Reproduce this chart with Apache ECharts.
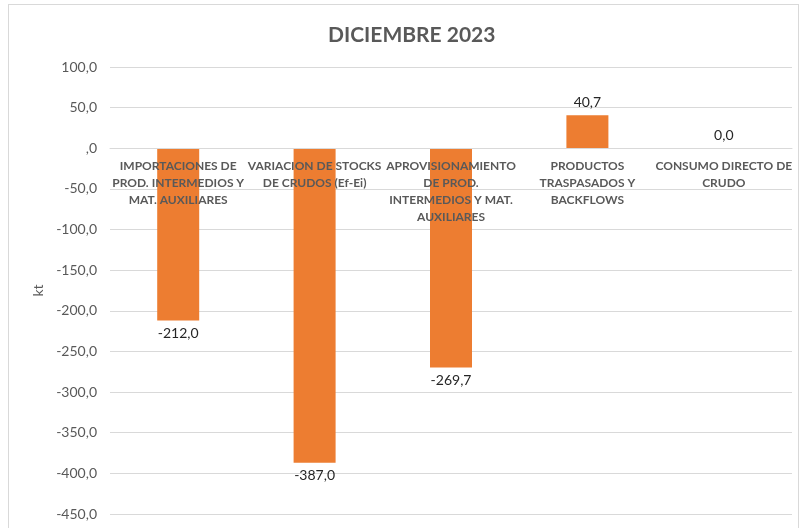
<!DOCTYPE html>
<html>
<head>
<meta charset="utf-8">
<script src="https://cdn.jsdelivr.net/npm/echarts@6/dist/echarts.min.js"></script>
<style>
  html, body { margin: 0; padding: 0; background: #fff; }
  #frame { position: absolute; left: 8px; top: 4px; width: 791px; height: 560px; border: 1px solid #d9d9d9; box-sizing: border-box; }
  #chart { position: absolute; left: 0; top: 0; width: 802px; height: 528px; }
</style>
</head>
<body>
<div id="frame"></div>
<div id="chart"></div>
<script>
const categories = [
  'IMPORTACIONES DE\nPROD. INTERMEDIOS Y\nMAT. AUXILIARES',
  'VARIACION DE STOCKS\nDE CRUDOS (Ef-Ei)',
  'APROVISIONAMIENTO\nDE PROD.\nINTERMEDIOS Y MAT.\nAUXILIARES',
  'PRODUCTOS\nTRASPASADOS Y\nBACKFLOWS',
  'CONSUMO DIRECTO DE\nCRUDO'
]
const values = [-212.0, -387.0, -269.7, 40.7, 0.0]
const yMin = -450
const yMax = 100
const yStep = 50

const fmt = (v) => v === 0 ? ',0' : v.toFixed(1).replace('.', ',')
const fmtLabel = (v) => v.toFixed(1).replace('.', ',')

const gridTop = 67
const gridBottom = 14
const plotH = 528 - gridTop - gridBottom
// pull the category axis up to the zero line
const zeroOffset = -plotH * (0 - yMin) / (yMax - yMin)

const chart = echarts.init(document.getElementById('chart'), null, { renderer: 'canvas' })

chart.setOption({
  backgroundColor: 'transparent',
  animation: false,
  textStyle: { fontFamily: 'Lato' },
  title: {
    text: 'DICIEMBRE 2023',
    left: 323,
    top: 20,
    textStyle: { color: '#595959', fontSize: 21, fontWeight: 'bold', fontFamily: 'Lato' },
  },
  grid: { top: gridTop, right: 10, bottom: gridBottom, left: 110, containLabel: false },
  xAxis: {
    type: 'category',
    data: categories,
    offset: zeroOffset,
    z: 5,
    axisLine: { onZero: false, lineStyle: { color: '#d9d9d9' } },
    axisTick: { show: false },
    axisLabel: {
      interval: 0,
      margin: 9,
      color: '#595959',
      fontSize: 12,
      fontWeight: 'bold',
      lineHeight: 17,
      fontFamily: 'Lato',
    },
  },
  yAxis: {
    type: 'value',
    min: yMin,
    max: yMax,
    interval: yStep,
    name: 'kt',
    nameLocation: 'middle',
    nameGap: 64,
    nameTextStyle: { color: '#595959', fontSize: 14, fontFamily: 'Lato' },
    axisLine: { show: false },
    axisTick: { show: false },
    splitLine: { lineStyle: { color: '#d9d9d9' } },
    axisLabel: { color: '#595959', fontSize: 14, margin: 13, formatter: fmt, fontFamily: 'Lato' },
  },
  series: [{
    type: 'bar',
    barWidth: 42,
    z: 2,
    data: values.map(v => ({
      value: v,
      label: { position: v < 0 ? 'bottom' : 'top' },
    })),
    itemStyle: { color: '#ED7D31' },
    label: {
      show: true,
      distance: 6,
      color: '#262626',
      fontSize: 14,
      fontFamily: 'Lato',
      formatter: (p) => fmtLabel(p.value),
    },
  }],
})
</script>
</body>
</html>
